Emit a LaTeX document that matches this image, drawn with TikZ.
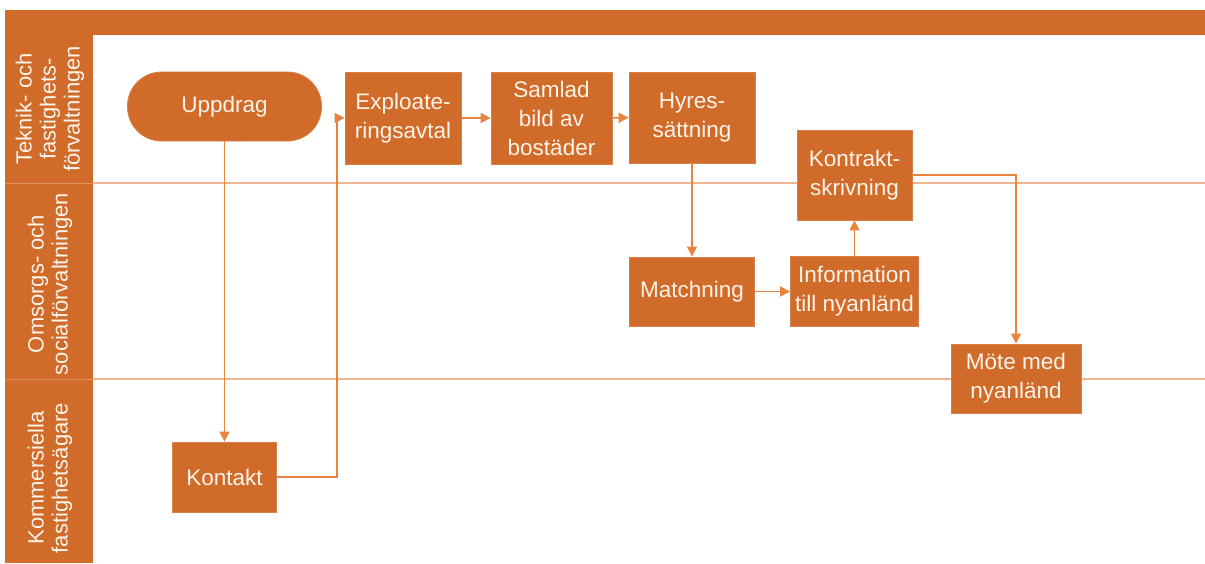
\documentclass[tikz,border=0pt]{standalone}
\usepackage{fontspec}
\setmainfont{Liberation Sans}
\usetikzlibrary{arrows.meta}
\definecolor{orfill}{HTML}{D06B2A}
\definecolor{orline}{HTML}{E8843F}
\definecolor{lanecol}{HTML}{F0B48F}
\definecolor{txtcol}{HTML}{FFF4EA}
\begin{document}
\begin{tikzpicture}[x=1pt,y=-1pt,
  box/.style={fill=orfill, draw=orfill!85!white, line width=0.8pt, text=txtcol,
    font=\fontsize{22.5}{29}\selectfont, align=center, inner sep=0pt},
  lanelabel/.style={rotate=90, text=txtcol, font=\fontsize{22}{24}\selectfont, align=center, inner sep=0pt},
  arr/.style={draw=orline, line width=1.5pt, -{Triangle[length=10pt,width=10pt]}},
  lanesep/.style={draw=lanecol, line width=1.3pt}]
\useasboundingbox (0,0) rectangle (1205,563);
\fill[white] (0,0) rectangle (1205,563);
% header bar and lane column
\fill[orfill] (5,10) rectangle (1205,35);
\fill[orfill] (5,10) rectangle (93,563);
\draw[lanesep] (93,183) -- (1205,183);
\draw[lanesep] (93,379) -- (1205,379);
\draw[draw=orfill!75!white, line width=0.8pt] (5,183) -- (93,183);
\draw[draw=orfill!75!white, line width=0.8pt] (5,379) -- (93,379);
% lane labels
\node[lanelabel] (l1) at (50,109) {Teknik- och\\fastighets-\\förvaltningen};
\node[lanelabel] (l2) at (50,284) {Omsorgs- och\\socialförvaltningen};
\node[lanelabel] (l3) at (50,478) {Kommersiella\\fastighetsägare};
% nodes
\node[box, rounded corners=34pt, minimum width=194pt, minimum height=69pt] (upp) at (224.5,106.5) {Uppdrag};
\node[box, minimum width=116pt, minimum height=92pt] (expl) at (403,118) {Exploate-\\ringsavtal};
\node[box, minimum width=121pt, minimum height=92pt] (saml) at (551.5,118) {Samlad\\bild av\\bostäder};
\node[box, minimum width=126pt, minimum height=91pt] (hyres) at (692,117.5) {Hyres-\\sättning};
\node[box, minimum width=115pt, minimum height=90pt] (kontr) at (854.5,175) {Kontrakt-\\skrivning};
\node[box, minimum width=125pt, minimum height=69pt] (match) at (692,291.5) {Matchning};
\node[box, minimum width=128pt, minimum height=70pt] (info) at (854.5,291.5) {Information\\till nyanländ};
\node[box, minimum width=130pt, minimum height=69pt] (mote) at (1016,378.5) {Möte med\\nyanländ};
\node[box, minimum width=104pt, minimum height=70pt] (kont) at (224.5,477) {Kontakt};
\coordinate (k1) at (337,0);
% connectors
\draw[arr] (upp.south) -- (kont.north);
\draw[arr] (kont.east) -- (kont.east -| k1) -- (k1 |- expl.west) -- (expl.west);
\draw[arr] (expl.east) -- (saml.west);
\draw[arr] (saml.east) -- (hyres.west);
\draw[arr] (hyres.south) -- (match.north);
\draw[arr] (match.east) -- (info.west);
\draw[arr] (info.north) -- (kontr.south);
\draw[arr] (kontr.east) -| (mote.north);
\end{tikzpicture}
\end{document}
